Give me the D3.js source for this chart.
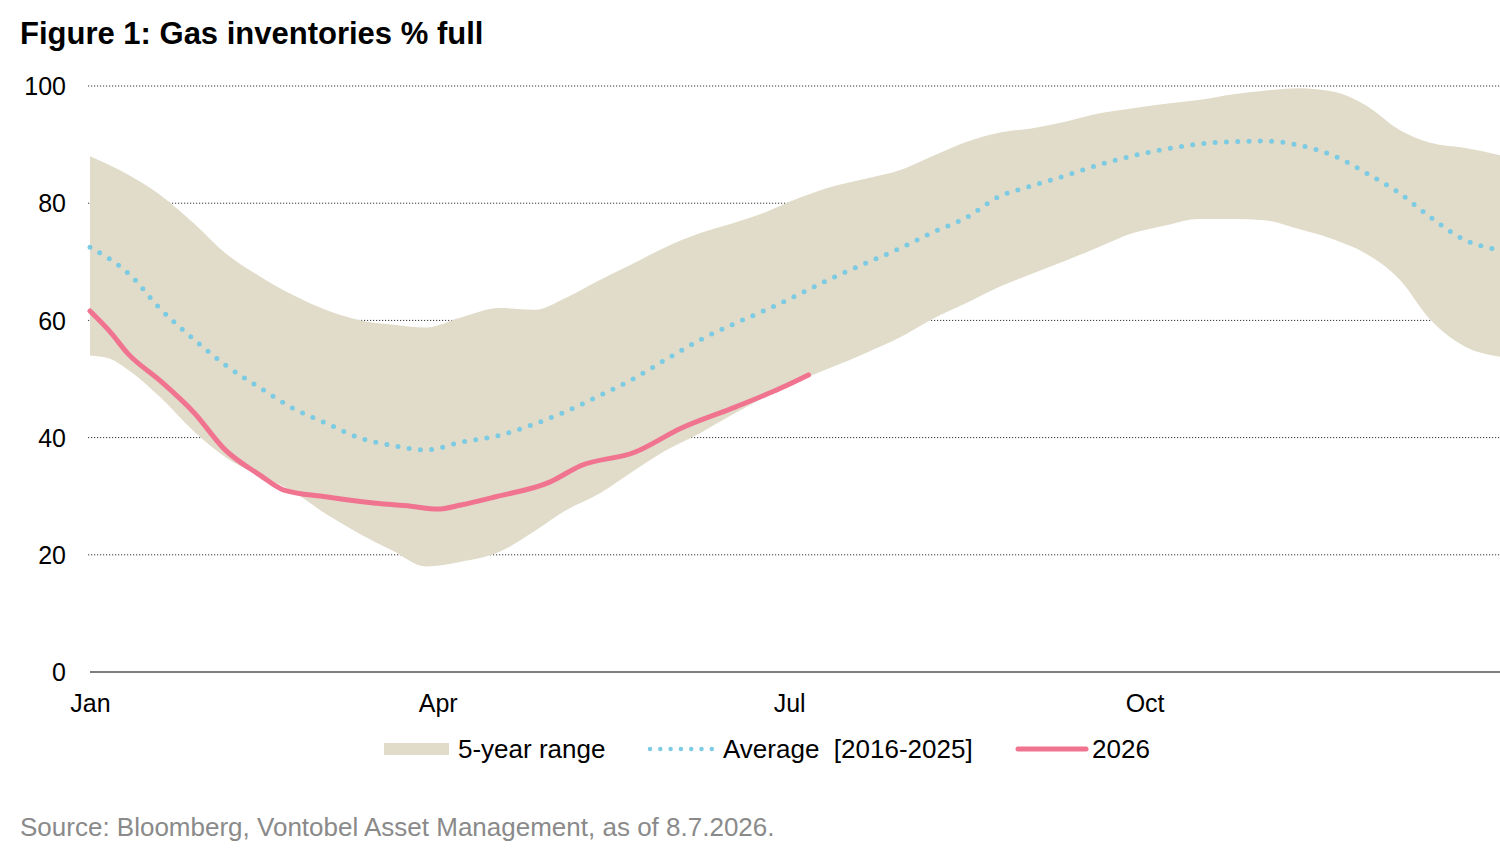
<!DOCTYPE html>
<html>
<head>
<meta charset="utf-8">
<script src="https://cdn.jsdelivr.net/npm/d3@7"></script>
<style>
  body { margin: 0; background: #fff; }
  svg { font-family: "Liberation Sans", Arial, sans-serif; }
</style>
</head>
<body>
<div id="graph"></div>
<script>
// day of year (0 = 1 Jan) for the range and average readings
var days = [0, 5, 10, 18, 27, 35, 44, 52, 61, 70, 78, 87, 96, 106, 115, 123, 132, 140, 149, 158,
  166, 175, 184, 192, 201, 210, 218, 227, 235, 244, 253, 261, 270, 279, 287, 296, 304, 313, 322,
  330, 339, 347, 356, 365];
var rangeHigh = [88, 86.5, 84.8, 81.5, 76.5, 71.5, 67.5, 64.5, 61.8, 60, 59.3, 58.8, 60.5, 62.1,
  61.8, 63.8, 66.9, 69.5, 72.5, 74.9, 76.5, 78.5, 81, 82.8, 84.2, 85.7, 88, 90.5, 92, 92.8, 94,
  95.3, 96.2, 97, 97.6, 98.6, 99.2, 99.6, 99, 96.8, 92.5, 90.3, 89.4, 88.2];
var rangeLow = [54, 53.5, 51.5, 47, 41, 36.7, 33.5, 31, 27, 23.5, 20.8, 18, 18.8, 20.5, 24, 27.5,
  30.5, 34, 37.8, 40.8, 43.8, 47, 49.8, 52, 54.5, 57.2, 60.2, 63, 65.6, 68, 70.3, 72.5, 74.9, 76.3,
  77.3, 77.3, 77.1, 75.6, 73.8, 71.5, 67, 60.1, 55.5, 53.8];
var average = [72.5, 70.5, 68, 62.1, 56.7, 52.4, 48.5, 45.2, 42.5, 39.9, 38.7, 37.9, 39.2, 40.4,
  42.3, 44.4, 47.2, 49.8, 53.3, 56.7, 59.2, 61.8, 64.6, 67.2, 69.8, 72.4, 75, 77.6, 81, 83, 84.8,
  86.5, 88.1, 89.3, 90.1, 90.5, 90.6, 89.9, 88.1, 85.3, 81.7, 77.6, 73.7, 72];

// 2026 so far
var days2026 = [0, 5, 10, 18, 27, 35, 44, 50, 61, 74, 83, 90, 96, 105, 119, 127, 141, 153, 167, 179, 186];
var values2026 = [61.6, 58.2, 54.2, 49.8, 44.2, 37.9, 33.6, 31.1, 29.9, 28.8, 28.3, 27.8, 28.5, 29.9,
  32.4, 35.2, 37.5, 41.6, 45.2, 48.5, 50.7];

var yTicks = [0, 20, 40, 60, 80, 100];
var legendLabels = ["5-year range", "Average  [2016-2025]", "2026"];

var W = 1500, H = 858;
var plotLeft = 90, plotRight = 1500, plotTop = 86, plotBottom = 672;

var svg = d3.select("#graph").append("svg")
  .attr("width", W)
  .attr("height", H);

var start = new Date(2026, 0, 1);
function toDate(d) { return d3.timeDay.offset(start, d); }

var x = d3.scaleTime()
  .domain([start, new Date(2027, 0, 1)])
  .range([plotLeft, plotRight]);
var y = d3.scaleLinear()
  .domain([0, 100])
  .range([plotBottom, plotTop]);

svg.append("text")
  .attr("x", 20).attr("y", 44)
  .attr("font-size", "31px")
  .attr("font-weight", "bold")
  .attr("fill", "#000")
  .text("Figure 1: Gas inventories % full");

// y labels
var yAxis = d3.axisLeft(y).tickValues(yTicks).tickSize(0).tickPadding(0);
var gy = svg.append("g").attr("transform", "translate(66,0)").call(yAxis);
gy.select(".domain").remove();
gy.selectAll("text").attr("font-size", "25px").attr("fill", "#000").attr("dy", "0.35em");

// grid lines
svg.append("g").selectAll("line")
  .data(yTicks.filter(function (t) { return t > 0; }))
  .join("line")
  .attr("x1", plotLeft - 2).attr("x2", plotRight)
  .attr("y1", function (d) { return y(d); })
  .attr("y2", function (d) { return y(d); })
  .attr("stroke", "#333")
  .attr("stroke-width", 1)
  .attr("stroke-dasharray", "1.2 1.8");

// 5-year band
var band = days.map(function (d, i) { return { d: d, lo: rangeLow[i], hi: rangeHigh[i] }; });
svg.append("path")
  .datum(band)
  .attr("fill", "#e0dcc9")
  .attr("d", d3.area()
    .x(function (p) { return x(toDate(p.d)); })
    .y0(function (p) { return y(p.lo); })
    .y1(function (p) { return y(p.hi); })
    .curve(d3.curveMonotoneX));

// average
svg.append("path")
  .datum(days.map(function (d, i) { return [d, average[i]]; }))
  .attr("fill", "none")
  .attr("stroke", "#7ccbe2")
  .attr("stroke-width", 5)
  .attr("stroke-linecap", "round")
  .attr("stroke-dasharray", "0 11.3")
  .attr("d", d3.line()
    .x(function (p) { return x(toDate(p[0])); })
    .y(function (p) { return y(p[1]); })
    .curve(d3.curveMonotoneX));

// 2026
svg.append("path")
  .datum(days2026.map(function (d, i) { return [d, values2026[i]]; }))
  .attr("fill", "none")
  .attr("stroke", "#f07490")
  .attr("stroke-width", 5)
  .attr("stroke-linecap", "round")
  .attr("stroke-linejoin", "round")
  .attr("d", d3.line()
    .x(function (p) { return x(toDate(p[0])); })
    .y(function (p) { return y(p[1]); })
    .curve(d3.curveMonotoneX));

// zero line
svg.append("line")
  .attr("x1", plotLeft).attr("x2", plotRight)
  .attr("y1", y(0)).attr("y2", y(0))
  .attr("stroke", "#555").attr("stroke-width", 1.5);

var xAxis = d3.axisBottom(x)
  .tickValues([0, 90, 181, 273].map(toDate))
  .tickFormat(d3.timeFormat("%b"))
  .tickSize(0).tickPadding(0);
var gx = svg.append("g").attr("transform", "translate(0,703)").call(xAxis);
gx.select(".domain").remove();
gx.selectAll("text").attr("font-size", "25px").attr("fill", "#000").attr("dy", "0.35em");

// legend
var lg = svg.append("g").attr("font-size", "26px").attr("fill", "#000");
lg.append("rect").attr("x", 384).attr("y", 743).attr("width", 65).attr("height", 12).attr("fill", "#e0dcc9");
lg.append("text").attr("x", 458).attr("y", 749).attr("dy", "0.35em").text(legendLabels[0]);
lg.append("line").attr("x1", 650).attr("x2", 712).attr("y1", 749).attr("y2", 749)
  .attr("stroke", "#7ccbe2").attr("stroke-width", 4.5).attr("stroke-linecap", "round")
  .attr("stroke-dasharray", "0 10.3");
lg.append("text").attr("x", 723).attr("y", 749).attr("dy", "0.35em")
  .attr("xml:space", "preserve").style("white-space", "pre").text(legendLabels[1]);
lg.append("line").attr("x1", 1018).attr("x2", 1086).attr("y1", 749).attr("y2", 749)
  .attr("stroke", "#f07490").attr("stroke-width", 5).attr("stroke-linecap", "round");
lg.append("text").attr("x", 1092).attr("y", 749).attr("dy", "0.35em").text(legendLabels[2]);

svg.append("text")
  .attr("x", 20).attr("y", 836)
  .attr("font-size", "26px")
  .attr("fill", "#8a8a8a")
  .text("Source: Bloomberg, Vontobel Asset Management, as of 8.7.2026.");
</script>
</body>
</html>
